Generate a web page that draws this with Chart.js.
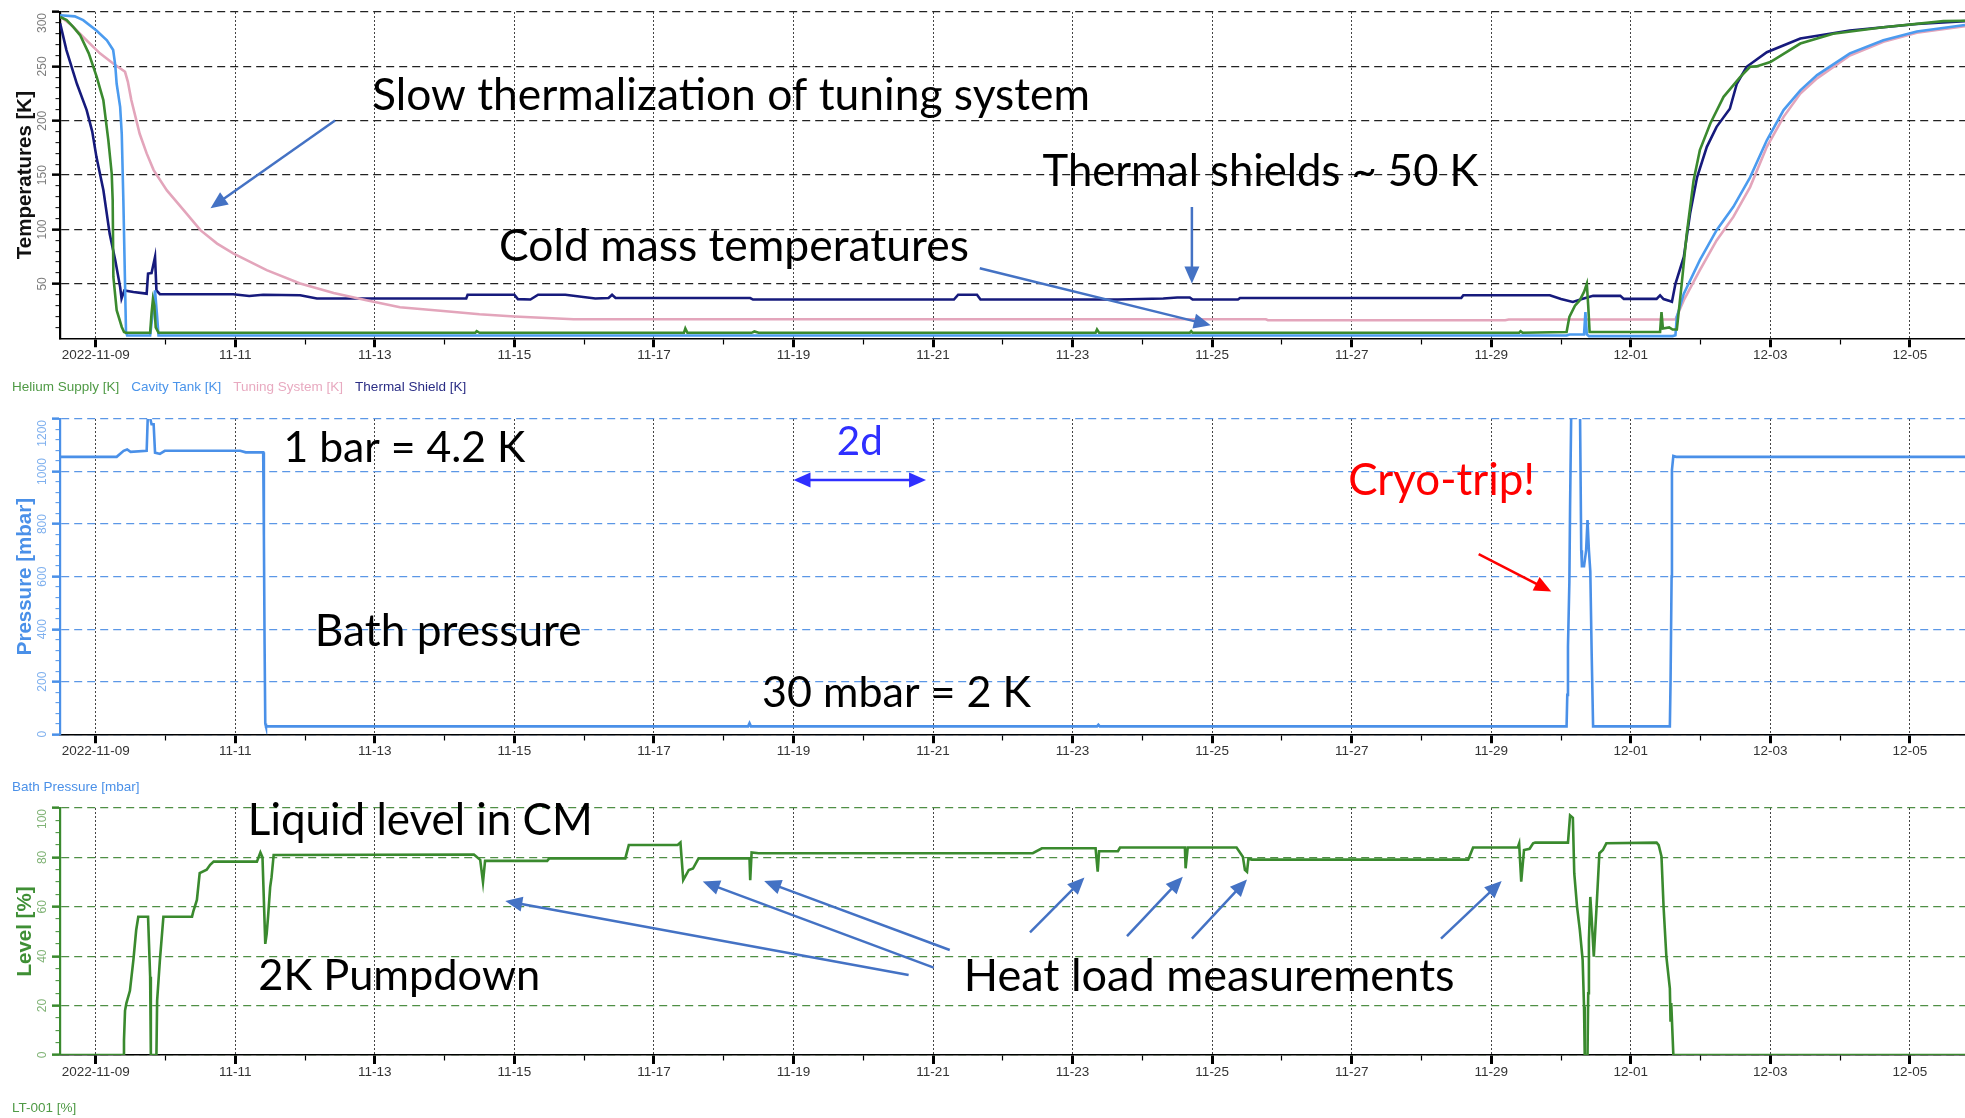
<!DOCTYPE html>
<html><head><meta charset="utf-8">
<script src="https://cdn.jsdelivr.net/npm/chart.js@4.4.1/dist/chart.umd.min.js"></script>
<style>
html,body{margin:0;padding:0;background:#fff;overflow:hidden;width:1965px;height:1118px;}
canvas.p{position:absolute;left:0;}
</style></head><body>
<canvas id="c1" class="p" style="top:0px" width="1965" height="404"></canvas>
<canvas id="c2" class="p" style="top:400px" width="1965" height="404"></canvas>
<canvas id="c3" class="p" style="top:800px" width="1965" height="325"></canvas>
<script>
// ---- DATA (x = days since 2022-11-09 00:00) ----
const heliumSupply = [[-0.51,295.6],[-0.416,292.5],[-0.32,286],[-0.225,278.8],[-0.1,262],[0.014,240.4],[0.109,219],[0.181,182],[0.229,151.5],[0.243,127],[0.253,56.4],[0.30,25.8],[0.373,10.4],[0.406,5.8],[0.43,5],[0.78,5],[0.80,23],[0.82,36],[0.84,30],[0.86,10],[0.90,5],[5.44,5],[5.46,6.5],[5.5,5],[8.43,5],[8.45,9],[8.48,5],[9.40,5],[9.44,6.2],[9.5,5],[14.33,5],[14.35,8],[14.38,5],[15.68,5],[15.7,6.5],[15.72,5],[20.40,5],[20.42,6.5],[20.45,5],[21.08,5.8],[21.12,19.6],[21.2,30],[21.27,35],[21.33,42.6],[21.37,50],[21.39,30],[21.41,5.8],[22.42,5.8],[22.44,24],[22.46,9],[22.55,10],[22.6,8],[22.66,8],[22.73,50],[22.8,95],[22.9,145],[22.99,173],[23.14,197.5],[23.33,222],[23.57,240.4],[23.71,249.6],[23.8,250],[24.0,254],[24.43,271],[24.9,280],[25.62,286],[26.48,291.6],[26.79,292]];
const cavityTank = [[-0.51,297],[-0.3,296],[-0.18,292.5],[0.01,283],[0.16,274],[0.22,268],[0.25,265],[0.28,251],[0.30,234],[0.35,212.8],[0.373,188],[0.396,127],[0.42,50],[0.434,5.8],[0.45,2.5],[0.78,2.5],[0.82,25],[0.85,44],[0.88,20],[0.9,2.5],[21.08,2.5],[21.12,3.5],[21.33,3.5],[21.35,24],[21.37,3.5],[21.4,2],[22.6,2],[22.64,2.8],[22.66,19.6],[22.76,41],[22.99,71.8],[23.23,99.4],[23.47,120.8],[23.71,148],[23.95,182],[24.19,209.8],[24.43,228],[24.67,242],[25.14,262],[25.62,274],[26.1,282],[26.79,288]];
const tuningSystem = [[-0.51,296],[-0.35,288],[-0.18,277],[0.06,262],[0.25,252.7],[0.42,245],[0.46,236],[0.51,219],[0.63,188],[0.73,170],[0.83,154.6],[1.02,136],[1.26,117.8],[1.5,99.4],[1.74,87],[1.97,78],[2.45,62.6],[2.93,50.3],[3.41,41.7],[3.88,34.9],[4.36,28.5],[4.98,25],[5.5,22],[6.0,20],[6.85,17.5],[16.77,17.5],[16.8,16.6],[20.2,16.6],[20.25,17.2],[22.6,17.2],[22.64,17.2],[22.76,35],[22.99,62.6],[23.23,90],[23.47,111.6],[23.71,139],[23.95,176],[24.19,203.6],[24.43,225],[24.67,239],[25.14,260],[25.62,272.6],[26.1,281],[26.79,287]];
const thermalShield = [[-0.51,289.5],[-0.42,265],[-0.27,234],[-0.13,209.8],[-0.05,190],[0.01,166.8],[0.11,136],[0.2,96],[0.28,71.8],[0.35,47],[0.37,36.5],[0.41,44],[0.54,42.6],[0.73,41],[0.75,59.5],[0.80,60],[0.85,74.8],[0.87,44],[0.92,40.5],[1.97,40.5],[2.2,38.8],[2.4,40],[2.93,39.6],[3.17,36.5],[5.31,36.5],[5.33,40],[6.0,40],[6.05,36],[6.23,35.6],[6.34,40],[6.73,40],[7.16,36.5],[7.35,37],[7.4,40],[7.45,37],[9.38,37],[9.42,35.6],[12.3,35.6],[12.36,40],[12.63,40],[12.68,35.6],[14.65,35.6],[15.3,36.5],[15.5,37.5],[15.68,37.5],[15.72,35.6],[16.37,35.6],[16.4,37],[19.57,37],[19.6,39.6],[20.84,39.6],[21.0,36],[21.17,33.4],[21.3,36],[21.46,39],[21.85,39],[21.9,36.2],[22.37,36.2],[22.42,39.5],[22.47,36],[22.57,34],[22.59,33.5],[22.64,50],[22.76,74.8],[22.85,114.7],[22.95,148],[23.09,176],[23.23,194.4],[23.42,211],[23.52,234],[23.66,249.6],[23.95,263],[24.43,275.7],[25.14,283],[26.1,289],[26.79,291.6]];
const bathPressure = [[-0.51,1056],[0.3,1056],[0.4,1079],[0.45,1084],[0.5,1075],[0.73,1079],[0.75,1240],[0.8,1180],[0.83,1180],[0.85,1072],[0.92,1067],[0.99,1079],[2.07,1079],[2.15,1073],[2.40,1073],[2.41,758],[2.42,345],[2.43,41],[2.44,30],[9.35,30],[9.37,42],[9.39,30],[14.35,30],[14.37,36],[14.39,30],[21.08,30],[21.09,150],[21.10,333],[21.12,580],[21.13,866],[21.15,1300],[21.27,1300],[21.29,700],[21.30,640],[21.33,640],[21.36,700],[21.38,815],[21.40,700],[21.42,620],[21.44,300],[21.46,30],[22.56,30],[22.57,200],[22.585,600],[22.59,1006],[22.61,1059],[22.65,1056],[26.79,1056]];
const liquidLevel = [[-0.51,0],[0.40,0],[0.405,6],[0.42,18],[0.44,21],[0.49,26],[0.54,38.5],[0.58,50.6],[0.61,56],[0.75,56],[0.78,31.7],[0.79,0],[0.87,0],[0.88,22],[0.92,38.5],[0.97,56],[1.38,56],[1.40,58.3],[1.45,62.8],[1.49,73.6],[1.59,75],[1.64,77],[1.69,78.3],[2.31,78.3],[2.36,82],[2.39,80],[2.43,45],[2.45,49],[2.47,56],[2.5,68],[2.52,72],[2.55,81],[5.42,81.2],[5.51,79],[5.55,70],[5.58,78.6],[6.47,78.6],[6.5,79.6],[7.59,79.6],[7.64,85],[8.34,85],[8.38,86],[8.42,70.8],[8.5,74.9],[8.56,75.5],[8.64,79.6],[9.37,79.6],[9.38,70.8],[9.40,82],[9.5,81.7],[13.43,81.7],[13.56,83.7],[14.33,83.7],[14.36,74.2],[14.38,82.5],[14.65,82.5],[14.68,84],[15.61,84],[15.62,75.6],[15.65,84],[16.35,84],[16.44,80.3],[16.47,75],[16.5,74.2],[16.52,79.5],[16.57,79.1],[19.67,79.1],[19.74,84],[20.38,84],[20.40,85.6],[20.43,70.2],[20.47,83],[20.55,83.5],[20.6,85.7],[20.63,86],[21.1,86],[21.13,97],[21.17,96],[21.19,73.6],[21.23,60],[21.27,50.6],[21.31,38.5],[21.33,19.6],[21.34,0],[21.38,0],[21.39,25],[21.40,46.6],[21.42,64],[21.44,55],[21.47,39.8],[21.49,50],[21.51,60],[21.55,81.7],[21.6,83],[21.65,85.7],[22.37,86],[22.40,85],[22.44,80.4],[22.47,60],[22.51,39.8],[22.56,27],[22.57,13.5],[22.58,21],[22.61,0],[26.79,0]];

const xTickDays = [0,2,4,6,8,10,12,14,16,18,20,22,24,26];
const xTickLabels = ['2022-11-09','11-11','11-13','11-15','11-17','11-19','11-21','11-23','11-25','11-27','11-29','12-01','12-03','12-05'];
const tempTicks = [50,100,150,200,250,300];
const tempTickLabels = ['50','100','150','200','250','300'];
const pressureTicks = [0,200,400,600,800,1000,1200];
const pressureTickLabels = ['0','200','400','600','800','1000','1200'];
const levelTicks = [0,20,40,60,80,100];
const levelTickLabels = ['0','20','40','60','80','100'];

const X_MIN = -0.512, X_MAX = 26.79;
const FONT = 'Liberation Sans, Arial, sans-serif';
const ANN_FONT = 'Lato, "Open Sans", sans-serif';

function pts(a){ return a.map(p => ({x:p[0], y:p[1]})); }
function range(a,b,s){ const r=[]; for(let v=a; v<=b+1e-9; v+=s) r.push(Math.round(v*1000)/1000); return r; }

function xScale(h){
  const isMaj = c => c && c.tick && xTickDays.indexOf(c.tick.value) >= 0;
  return {
    type:'linear', min:X_MIN, max:X_MAX,
    afterBuildTicks: s => { s.ticks = range(0,26,1).map(v => ({value:v})); },
    afterFit: s => { s.height = h; },
    ticks:{ autoSkip:false, maxRotation:0, minRotation:0, padding:0, color:'#333',
      font:{family:FONT, size:13.5},
      callback: v => { const i = xTickDays.indexOf(v); return i >= 0 ? xTickLabels[i] : ''; } },
    grid:{ color: c => isMaj(c) ? '#444' : 'rgba(0,0,0,0)', lineWidth:1, tickLength:9, tickColor:'#000',
      tickWidth: c => isMaj(c) ? 3 : 1.2, tickBorderDash: c => isMaj(c) ? [] : [5,50] },
    border:{ color:'#000', width:1.5, dash:[2,2] }
  };
}
function yScale(o){
  const isMaj = c => c && c.tick && o.major.indexOf(c.tick.value) >= 0;
  return {
    position:'left', min:o.min, max:o.max,
    afterBuildTicks: s => { s.ticks = o.all.map(v => ({value:v})); },
    afterFit: s => { s.width = 60; },
    ticks:{ display:false },
    title:{ display:true, text:o.title, color:o.titleColor, font:{family:FONT, size:20.5, weight:'bold'}, padding:{top:12.7, bottom:0} },
    grid:{ color: c => (isMaj(c) && !(o.noZeroGrid && c.tick.value === 0)) ? o.gridColor : 'rgba(0,0,0,0)',
      lineWidth:1.3, tickLength:8, tickColor:o.axisColor,
      tickWidth: c => isMaj(c) ? 2.5 : 1, tickBorderDash: c => isMaj(c) ? [] : [0,3.5,8,50] },
    border:{ color:o.axisColor, width:2.2, dash:[8,5] }
  };
}
function legendCfg(){
  return { display:true, position:'bottom', align:'start',
    labels:{ boxWidth:0, boxHeight:0, padding:5.25, font:{family:FONT, size:13.5},
      generateLabels: ch => ch.data.datasets.map((ds,i) => ({ text:ds.label, fontColor:ds.legendColor,
        fillStyle:'rgba(0,0,0,0)', strokeStyle:'rgba(0,0,0,0)', lineWidth:0, hidden:false, datasetIndex:i })) } };
}

const yLabelPlugin = {
  id:'yLabels',
  afterDraw(chart, args, opts){
    const s = chart.scales.y, ctx = chart.ctx, area = chart.chartArea;
    ctx.save();
    ctx.fillStyle = opts.color; ctx.font = '12px ' + FONT;
    ctx.textAlign = 'center'; ctx.textBaseline = 'middle';
    opts.values.forEach((v,i) => {
      const w = ctx.measureText(opts.labels[i]).width;
      let y = s.getPixelForValue(v);
      y = Math.max(y, area.top + w/2 + 1);
      ctx.save(); ctx.translate(42.5, y); ctx.rotate(-Math.PI/2); ctx.fillText(opts.labels[i], 0, 0); ctx.restore();
    });
    ctx.restore();
  }
};

function drawHead(ctx, x1, y1, x2, y2, len, hw){
  const a = Math.atan2(y2-y1, x2-x1);
  ctx.beginPath();
  ctx.moveTo(x2, y2);
  ctx.lineTo(x2 - len*Math.cos(a) + hw*Math.sin(a), y2 - len*Math.sin(a) - hw*Math.cos(a));
  ctx.lineTo(x2 - len*Math.cos(a) - hw*Math.sin(a), y2 - len*Math.sin(a) + hw*Math.cos(a));
  ctx.closePath(); ctx.fill();
}
const annPlugin = {
  id:'ann',
  afterDatasetsDraw(chart, args, opts){
    const xs = chart.scales.x, ys = chart.scales.y, ctx = chart.ctx;
    (opts.arrows || []).forEach(a => {
      const x1 = xs.getPixelForValue(a.x1), y1 = ys.getPixelForValue(a.y1);
      const x2 = xs.getPixelForValue(a.x2), y2 = ys.getPixelForValue(a.y2);
      const len = 17, hw = 7.5;
      const ang = Math.atan2(y2-y1, x2-x1);
      ctx.save();
      ctx.strokeStyle = a.color; ctx.fillStyle = a.color; ctx.lineWidth = 2.5; ctx.lineCap = 'butt';
      ctx.beginPath();
      const sx = a.double ? x1 + (len-2)*Math.cos(ang) : x1, sy = a.double ? y1 + (len-2)*Math.sin(ang) : y1;
      ctx.moveTo(sx, sy); ctx.lineTo(x2 - (len-2)*Math.cos(ang), y2 - (len-2)*Math.sin(ang)); ctx.stroke();
      drawHead(ctx, x1, y1, x2, y2, len, hw);
      if (a.double) drawHead(ctx, x2, y2, x1, y1, len, hw);
      ctx.restore();
    });
    (opts.texts || []).forEach(t => {
      ctx.save();
      ctx.font = '100px ' + ANN_FONT;
      const m = ctx.measureText(t.text).width;
      const size = 100 * t.w / m;
      ctx.font = size + 'px ' + ANN_FONT;
      ctx.fillStyle = t.color || '#000';
      ctx.textAlign = t.align || 'left'; ctx.textBaseline = 'middle';
      ctx.fillText(t.text, xs.getPixelForValue(t.x), ys.getPixelForValue(t.y));
      ctx.restore();
    });
  }
};

function lineDs(label, data, color, legendColor){
  return { label, data:pts(data), borderColor:color, backgroundColor:color, legendColor,
    borderWidth:2.6, pointRadius:0, tension:0, fill:false };
}
const common = { responsive:false, animation:false, events:[], devicePixelRatio:1 };

new Chart(document.getElementById('c1'), {
  type:'line',
  data:{ datasets:[
    lineDs('Helium Supply [K]', heliumSupply, '#3b8a2f', '#4f9a45'),
    lineDs('Cavity Tank [K]', cavityTank, '#4b9bef', '#4a94ea'),
    lineDs('Tuning System [K]', tuningSystem, '#e3a5bb', '#e8aac0'),
    lineDs('Thermal Shield [K]', thermalShield, '#161a7c', '#2a2d85')
  ]},
  options:{ ...common,
    layout:{ padding:{top:12, left:0, right:0, bottom:0} },
    scales:{ x:xScale(37), y:yScale({min:0, max:300, major:tempTicks, all:range(10,300,10), title:'Temperatures [K]',
      titleColor:'#111', axisColor:'#000', gridColor:'#222', noZeroGrid:true}) },
    plugins:{ legend:legendCfg(), tooltip:{enabled:false},
      yLabels:{ values:tempTicks, labels:tempTickLabels, color:'#7d7d7d' },
      ann:{ texts:[
        {text:'Slow thermalization of tuning system', x:3.96, y:222.7, w:718},
        {text:'Thermal shields ~ 50 K', x:13.57, y:153, w:436},
        {text:'Cold mass temperatures', x:5.78, y:83.8, w:470}
      ], arrows:[
        {x1:3.43, y1:200.3, x2:1.645, y2:119.6, color:'#4472c4'},
        {x1:15.71, y1:120.7, x2:15.71, y2:50.4, color:'#4472c4'},
        {x1:12.67, y1:64.4, x2:15.98, y2:12, color:'#4472c4'}
      ]} }
  },
  plugins:[yLabelPlugin, annPlugin]
});

new Chart(document.getElementById('c2'), {
  type:'line',
  data:{ datasets:[ lineDs('Bath Pressure [mbar]', bathPressure, '#4a90e8', '#4a90e8') ]},
  options:{ ...common,
    layout:{ padding:{top:19, left:0, right:0, bottom:0} },
    scales:{ x:xScale(41), y:yScale({min:0, max:1200, major:pressureTicks, all:range(0,1200,40), title:'Pressure [mbar]',
      titleColor:'#4a90e8', axisColor:'#4a90e8', gridColor:'#5b97e6'}) },
    plugins:{ legend:legendCfg(), tooltip:{enabled:false},
      yLabels:{ values:pressureTicks, labels:pressureTickLabels, color:'#7fb0ee' },
      ann:{ texts:[
        {text:'1 bar = 4.2 K', x:2.69, y:1087, w:242},
        {text:'2d', x:10.95, y:1111, w:46, color:'#2f2fff', align:'center'},
        {text:'Cryo-trip!', x:17.95, y:963, w:187, color:'#ff0000'},
        {text:'Bath pressure', x:3.14, y:390, w:267},
        {text:'30 mbar = 2 K', x:9.55, y:156, w:269}
      ], arrows:[
        {x1:10.0, y1:967.6, x2:11.9, y2:967.6, color:'#2f2fff', double:true},
        {x1:19.82, y1:686, x2:20.86, y2:543, color:'#ff0000'}
      ]} }
  },
  plugins:[yLabelPlugin, annPlugin]
});

new Chart(document.getElementById('c3'), {
  type:'line',
  data:{ datasets:[ lineDs('LT-001 [%]', liquidLevel, '#3a8a2e', '#4f9a45') ]},
  options:{ ...common,
    layout:{ padding:{top:8, left:0, right:0, bottom:0} },
    scales:{ x:xScale(41.25), y:yScale({min:0, max:100, major:levelTicks, all:range(0,100,5), title:'Level [%]',
      titleColor:'#3f8f35', axisColor:'#3a8a2e', gridColor:'#4f8f45'}) },
    plugins:{ legend:legendCfg(), tooltip:{enabled:false},
      yLabels:{ values:levelTicks, labels:levelTickLabels, color:'#80b376' },
      ann:{ texts:[
        {text:'Liquid level in CM', x:2.18, y:94.8, w:345},
        {text:'2K Pumpdown', x:2.33, y:31.9, w:282},
        {text:'Heat load measurements', x:12.44, y:31.9, w:491}
      ], arrows:[
        {x1:11.65, y1:32.4, x2:5.87, y2:62.3, color:'#4472c4'},
        {x1:12.01, y1:35.4, x2:8.70, y2:70.2, color:'#4472c4'},
        {x1:12.24, y1:42.5, x2:9.58, y2:70.4, color:'#4472c4'},
        {x1:13.39, y1:49.6, x2:14.17, y2:71.9, color:'#4472c4'},
        {x1:14.78, y1:48.1, x2:15.58, y2:72.2, color:'#4472c4'},
        {x1:15.71, y1:47.1, x2:16.5, y2:71.1, color:'#4472c4'},
        {x1:19.28, y1:47.1, x2:20.15, y2:70.4, color:'#4472c4'}
      ]} }
  },
  plugins:[yLabelPlugin, annPlugin]
});
</script>
</body></html>
